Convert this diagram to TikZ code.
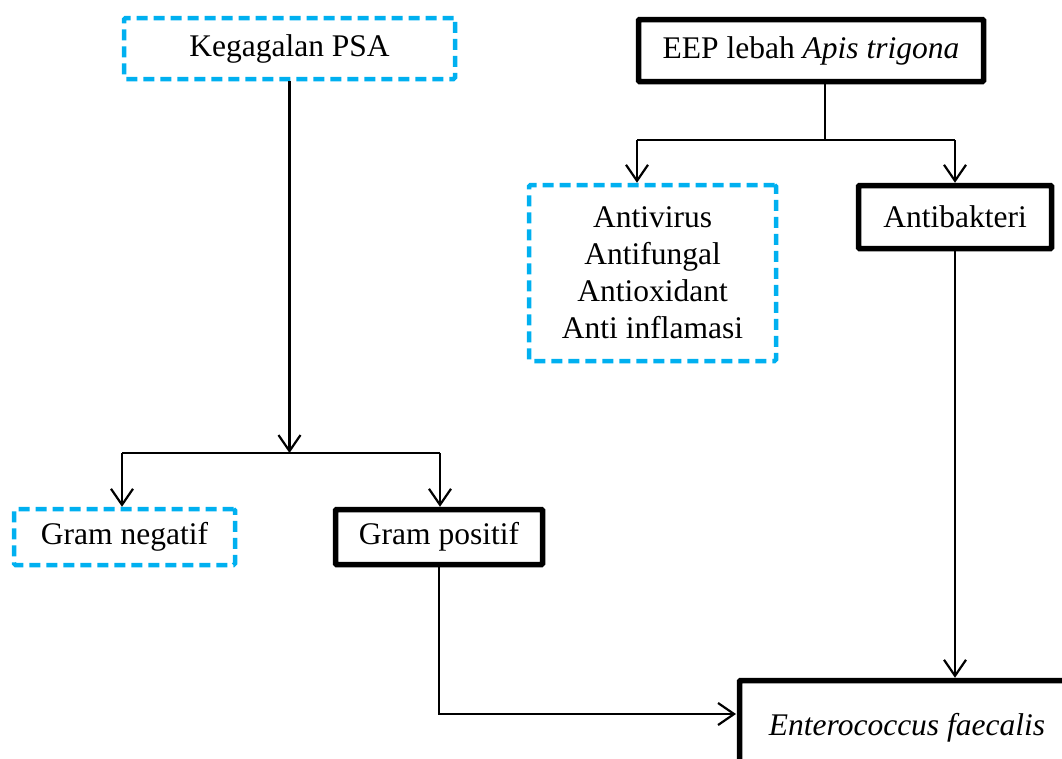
\documentclass[tikz,border=0pt]{standalone}
\usepackage{fontspec}
\setmainfont{Liberation Serif}
\usetikzlibrary{arrows.meta}
\definecolor{cy}{RGB}{0,176,240}
\begin{document}
\begin{tikzpicture}[x=1pt,y=-1pt,
  txt/.style={font=\fontsize{31.5}{37}\selectfont, align=center, inner sep=0pt, rectangle},
  dashbox/.style={txt, draw=cy, line width=4.5pt, dash pattern=on 11pt off 6pt, rounded corners=1.5pt},
  thickbox/.style={txt, draw=black, line width=5.5pt, rounded corners=1pt},
  conn/.style={line width=2.2pt, black},
  arr/.style={conn, -{Straight Barb[length=16pt,width=22pt]}}]
\useasboundingbox (0,0) rectangle (1062,758);
\clip (0,0) rectangle (1062,758);

\node[dashbox, minimum width=331pt, minimum height=61pt] (psa) at (289.5,48.5) {Kegagalan PSA};
\node[thickbox, minimum width=345pt, minimum height=62pt] (eep) at (811,50.5) {EEP lebah \textit{Apis trigona}};
\node[dashbox, minimum width=247pt, minimum height=176pt] (anti) at (652.5,273) {Antivirus\\Antifungal\\Antioxidant\\Anti inflamasi};
\node[thickbox, minimum width=193pt, minimum height=63pt] (bakt) at (955,217) {Antibakteri};
\node[dashbox, minimum width=221pt, minimum height=56pt] (gneg) at (124.5,537) {Gram negatif};
\node[thickbox, minimum width=207pt, minimum height=55pt] (gpos) at (439,537) {Gram positif};
\node[thickbox, minimum width=335pt, minimum height=95pt] (ent) at (907,728) {\textit{Enterococcus faecalis}};

\coordinate (pj) at (289.5,453);
\coordinate (pl) at (122,453);
\coordinate (pr) at (440,453);
\coordinate (ej) at (825,140);
\coordinate (el) at (637,140);
\coordinate (er) at (955,140);
\coordinate (ec) at (736,714);

\draw[arr] (psa.south) -- (pj);
\draw[conn] (pl) -- (pr);
\draw[arr] (pl) -- (pl |- gneg.north);
\draw[arr] (pr) -- (pr |- gpos.north);

\draw[conn] (eep.south -| ej) -- (ej);
\draw[conn] (el) -- (er);
\draw[arr] (el) -- (el |- anti.north);
\draw[arr] (er) -- (bakt.north);
\draw[arr] (bakt.south) -- (bakt.south |- ent.north);
\draw[arr] (gpos.south) |- (ec);
\end{tikzpicture}
\end{document}
